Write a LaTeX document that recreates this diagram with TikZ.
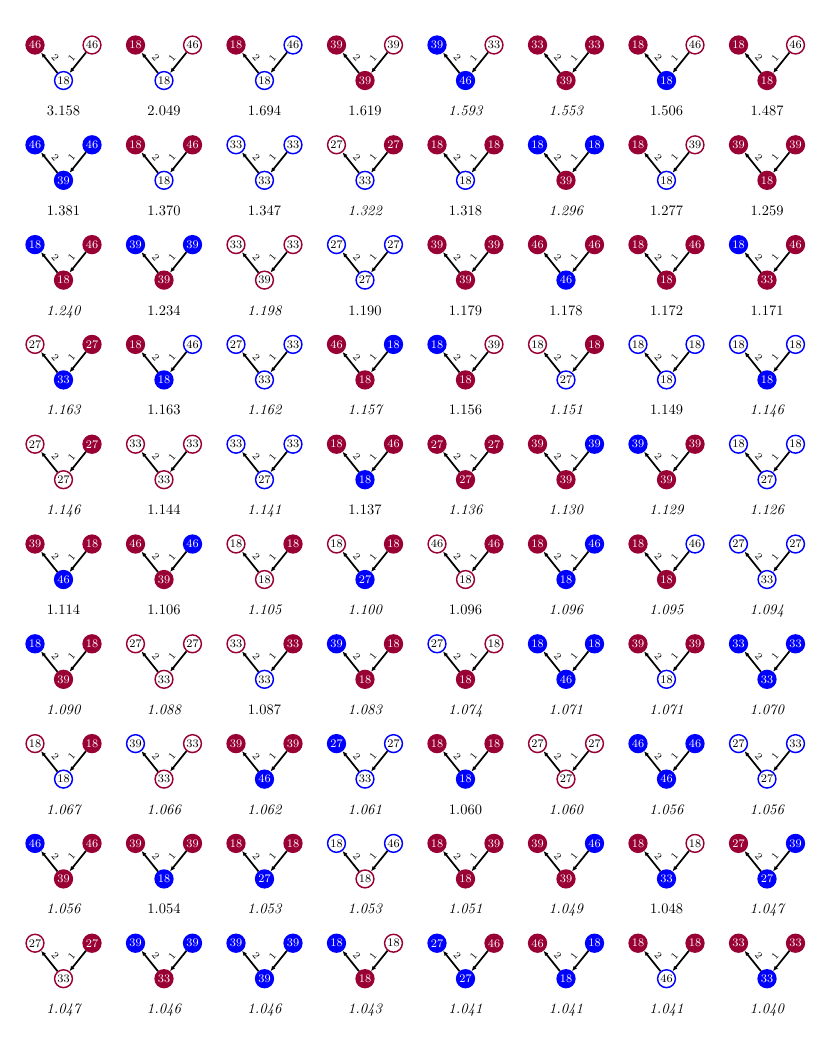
\documentclass[tikz,border=0pt]{standalone}
\usetikzlibrary{arrows.meta}
\definecolor{myred}{RGB}{153,0,51}
\definecolor{myblue}{RGB}{0,0,255}
\begin{document}
\begin{tikzpicture}[x=0.69pt,y=-0.69pt,
  vtx/.style={circle,minimum size=12.3pt,inner sep=0pt,font=\footnotesize,line width=1pt},
  rF/.style={vtx,fill=myred,draw=myred,text=white},
  rO/.style={vtx,fill=white,draw=myred,text=black},
  bF/.style={vtx,fill=myblue,draw=myblue,text=white},
  bO/.style={vtx,fill=white,draw=myblue,text=black},
  edg/.style={line width=1.2pt,-{Latex[length=3.5pt,width=3pt]}},
  elab/.style={font=\scriptsize,sloped,above,inner sep=2.5pt},
  val/.style={text height=1.6ex,text depth=0.3ex,inner sep=0pt},
  vu/.style={val,font=\normalsize},
  vi/.style={val,font=\itshape},
]
\useasboundingbox (0,0) rectangle (830,1037);
\foreach \ls/\lt/\rs/\rt/\bs/\bt/\v/\f [count=\k from 0] in {
 rF/46/rO/46/bO/18/3.158/vu,
 rF/18/rO/46/bO/18/2.049/vu,
 rF/18/bO/46/bO/18/1.694/vu,
 rF/39/rO/39/rF/39/1.619/vu,
 bF/39/rO/33/bF/46/1.593/vi,
 rF/33/rF/33/rF/39/1.553/vi,
 rF/18/rO/46/bF/18/1.506/vu,
 rF/18/rO/46/rF/18/1.487/vu,
 bF/46/bF/46/bF/39/1.381/vu,
 rF/18/rF/46/bO/18/1.370/vu,
 bO/33/bO/33/bO/33/1.347/vu,
 rO/27/rF/27/bO/33/1.322/vi,
 rF/18/rF/18/bO/18/1.318/vu,
 bF/18/bF/18/rF/39/1.296/vi,
 rF/18/rO/39/bO/18/1.277/vu,
 rF/39/rF/39/rF/18/1.259/vu,
 bF/18/rF/46/rF/18/1.240/vi,
 bF/39/bF/39/rF/39/1.234/vu,
 rO/33/rO/33/rO/39/1.198/vi,
 bO/27/bO/27/bO/27/1.190/vu,
 rF/39/rF/39/rF/39/1.179/vu,
 rF/46/rF/46/bF/46/1.178/vu,
 rF/18/rF/46/rF/18/1.172/vu,
 bF/18/rF/46/rF/33/1.171/vu,
 rO/27/rF/27/bF/33/1.163/vi,
 rF/18/bO/46/bF/18/1.163/vu,
 bO/27/bO/33/bO/33/1.162/vi,
 rF/46/bF/18/rF/18/1.157/vi,
 bF/18/rO/39/rF/18/1.156/vu,
 rO/18/rF/18/bO/27/1.151/vi,
 bO/18/bO/18/bO/18/1.149/vu,
 bO/18/bO/18/bF/18/1.146/vi,
 rO/27/rF/27/rO/27/1.146/vi,
 rO/33/rO/33/rO/33/1.144/vu,
 bO/33/bO/33/bO/27/1.141/vi,
 rF/18/rF/46/bF/18/1.137/vu,
 rF/27/rF/27/rF/27/1.136/vi,
 rF/39/bF/39/rF/39/1.130/vi,
 bF/39/rF/39/rF/39/1.129/vi,
 bO/18/bO/18/bO/27/1.126/vi,
 rF/39/rF/18/bF/46/1.114/vu,
 rF/46/bF/46/rF/39/1.106/vu,
 rO/18/rF/18/rO/18/1.105/vi,
 rO/18/rF/18/bF/27/1.100/vi,
 rO/46/rF/46/rO/18/1.096/vu,
 rF/18/bF/46/bF/18/1.096/vi,
 rF/18/bO/46/rF/18/1.095/vi,
 bO/27/bO/27/bO/33/1.094/vi,
 bF/18/rF/18/rF/39/1.090/vi,
 rO/27/rO/27/rO/33/1.088/vi,
 rO/33/rF/33/bO/33/1.087/vu,
 bF/39/rF/18/rF/18/1.083/vi,
 bO/27/rO/18/rF/18/1.074/vi,
 bF/18/bF/18/bF/46/1.071/vi,
 rF/39/rF/39/bO/18/1.071/vi,
 bF/33/bF/33/bF/33/1.070/vi,
 rO/18/rF/18/bO/18/1.067/vi,
 bO/39/rO/33/rO/33/1.066/vi,
 rF/39/rF/39/bF/46/1.062/vi,
 bF/27/bO/27/bO/33/1.061/vi,
 rF/18/rF/18/bF/18/1.060/vu,
 rO/27/rO/27/rO/27/1.060/vi,
 bF/46/bF/46/bF/46/1.056/vi,
 bO/27/bO/33/bO/27/1.056/vi,
 bF/46/rF/46/rF/39/1.056/vi,
 rF/39/rF/39/bF/18/1.054/vu,
 rF/18/rF/18/bF/27/1.053/vi,
 bO/18/bO/46/rO/18/1.053/vi,
 rF/18/rF/39/rF/18/1.051/vi,
 rF/39/bF/46/rF/39/1.049/vi,
 rF/18/rO/18/bF/33/1.048/vu,
 rF/27/bF/39/bF/27/1.047/vi,
 rO/27/rF/27/rO/33/1.047/vi,
 bF/39/bF/39/rF/33/1.046/vi,
 bF/39/bF/39/bF/39/1.046/vi,
 bF/18/rO/18/rF/18/1.043/vi,
 bF/27/rF/46/bF/27/1.041/vi,
 rF/46/bF/18/bF/18/1.041/vi,
 rF/18/rF/18/bO/46/1.041/vi,
 rF/33/rF/33/bF/33/1.040/vi}
{
 \pgfmathsetmacro\cx{63.5+100.5*mod(\k,8)}
 \pgfmathsetmacro\cy{45+99.8*int(\k/8)}
 \node[\ls] (L\k) at (\cx-28.5,\cy) {\lt};
 \node[\rs] (R\k) at (\cx+28.5,\cy) {\rt};
 \node[\bs] (B\k) at (\cx,\cy+35.5) {\bt};
 \node[\f] (V\k) at (\cx,\cy+66.5) {\v};
 \draw[edg] (B\k) -- node[elab] {2} (L\k);
 \draw[edg] (R\k) -- node[elab] {1} (B\k);
}
\end{tikzpicture}
\end{document}
